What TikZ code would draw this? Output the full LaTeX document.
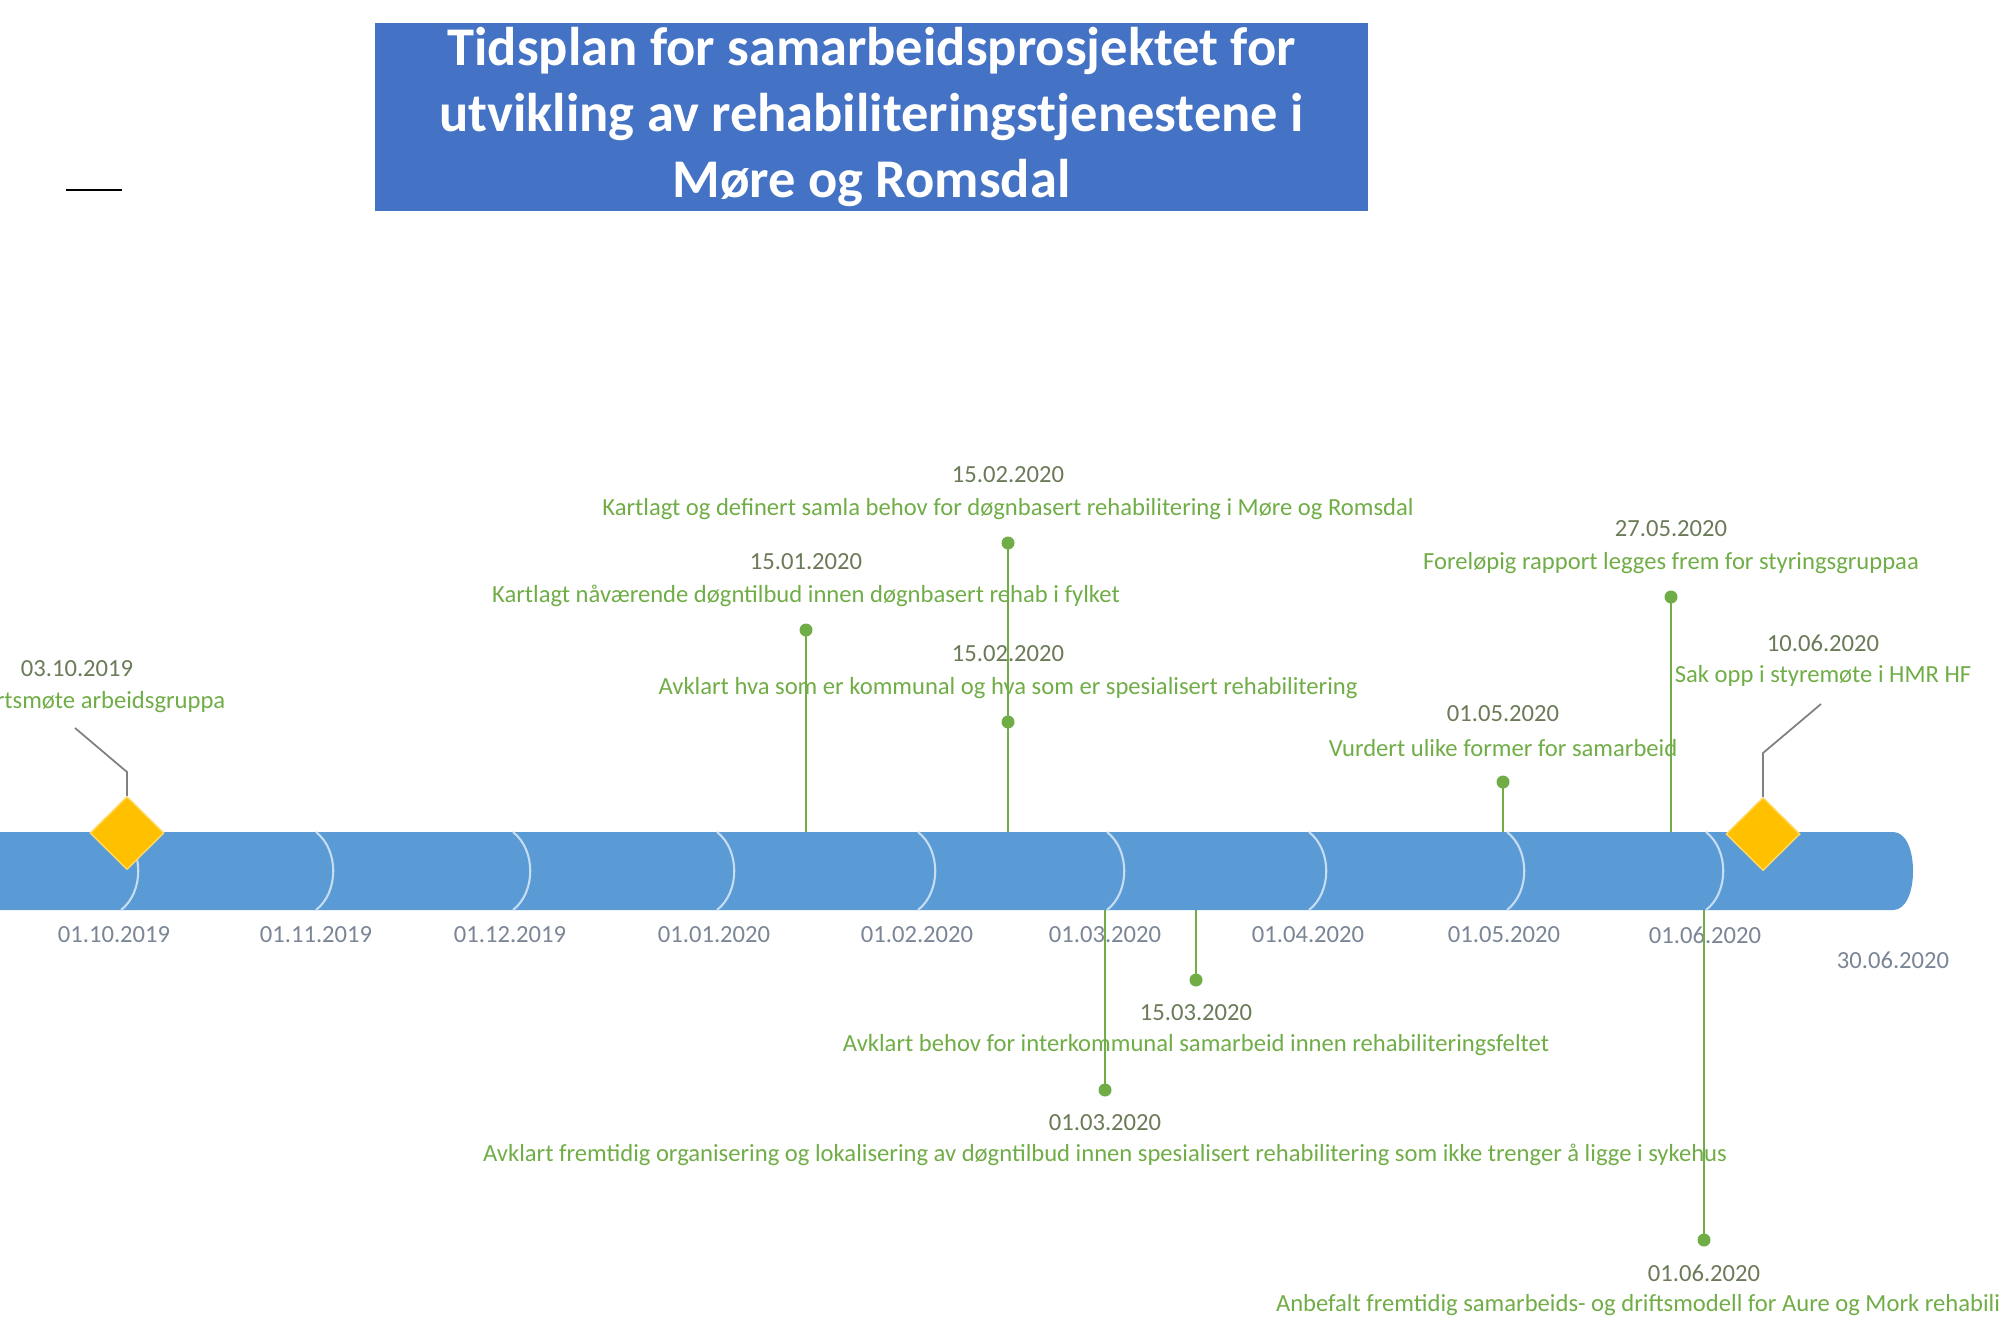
\documentclass[tikz,border=0pt]{standalone}
\usepackage{fontspec}
\setmainfont{Carlito}
\usetikzlibrary{shapes.geometric}

\definecolor{titleblue}{HTML}{4472C4}
\definecolor{barblue}{HTML}{5B9BD5}
\definecolor{seplight}{HTML}{C5DCF2}
\definecolor{msgold}{HTML}{FFC000}
\definecolor{msedge}{HTML}{FFD966}
\definecolor{evgreen}{HTML}{70AD47}
\definecolor{evdate}{HTML}{6B7A58}
\definecolor{axisgray}{HTML}{7A8596}
\definecolor{leadgray}{HTML}{808080}

\tikzset{
  smalltext/.style={font=\fontsize{7}{8}\selectfont, inner sep=0pt},
  evdesc/.style={smalltext, text=evgreen},
  evdatelbl/.style={smalltext, text=evdate},
  axislbl/.style={smalltext, text=axisgray},
  stem/.style={evgreen, line width=0.7pt},
  evdot/.style={circle, fill=evgreen, inner sep=0pt, minimum size=0.13cm},
  milestone/.style={diamond, aspect=1, fill=msgold, draw=msedge, line width=0.4pt,
    inner sep=0pt, minimum width=0.74cm, minimum height=0.73cm},
  leader/.style={leadgray, line width=0.5pt},
}

\begin{document}
\begin{tikzpicture}[x=0.01cm, y=-0.01cm]
  \useasboundingbox (0,0) rectangle (2000,1333);
  \clip (0,0) rectangle (2000,1333);

  % title
  \node[fill=titleblue, inner sep=0pt, minimum width=9.93cm, minimum height=1.88cm, text=white, align=center,
    font=\fontsize{15.5}{18.7}\selectfont\bfseries] (title) at (871.5,117)
    {Tidsplan for samarbeidsprosjektet for\\utvikling av rehabiliteringstjenestene i\\Møre og Romsdal};
  \draw[line width=0.8pt] (66,190) -- (122,190);

  % timeline bar
  \fill[barblue] (-10,832) -- (1893,832) .. controls (1906,832) and (1913,850) .. (1913,871)
    .. controls (1913,892) and (1906,910) .. (1893,910) -- (-10,910) -- cycle;
  \foreach \x/\lx/\d [count=\i] in {121/114/01.10.2019, 316/316/01.11.2019, 513/510/01.12.2019,
      717/714/01.01.2020, 918/917/01.02.2020, 1107/1105/01.03.2020, 1309/1308/01.04.2020,
      1507/1504/01.05.2020, 1706/1705/01.06.2020} {
    \draw[seplight, line width=0.6pt] (\x,832) .. controls (\x+23,850) and (\x+23,892) .. (\x,910);
    \node[axislbl] (month\i) at (\lx,935) {\d};
  }
  \node[axislbl] (endlbl) at (1893,960) {30.06.2020};

  % events above the bar
  \foreach \x/\y/\d/\txt [count=\i] in {
      806/630/15.01.2020/Kartlagt nåværende døgntilbud innen døgnbasert rehab i fylket,
      1008/543/15.02.2020/Kartlagt og definert samla behov for døgnbasert rehabilitering i Møre og Romsdal,
      1008/722/15.02.2020/Avklart hva som er kommunal og hva som er spesialisert rehabilitering,
      1503/782/01.05.2020/Vurdert ulike former for samarbeid,
      1671/597/27.05.2020/Foreløpig rapport legges frem for styringsgruppaa} {
    \coordinate (up\i) at (\x,832);
    \node[evdatelbl] (update\i) at (\x,\y-68) {\d};
    \node[evdesc] (uptext\i) at (\x,\y-34) {\txt};
    \node[evdot] (updot\i) at (\x,\y) {};
    \draw[stem] (updot\i.center) -- (up\i);
  }

  % events below the bar
  \foreach \x/\y/\d/\txt [count=\i] in {
      1196/980/15.03.2020/Avklart behov for interkommunal samarbeid innen rehabiliteringsfeltet,
      1105/1090/01.03.2020/Avklart fremtidig organisering og lokalisering av døgntilbud innen spesialisert rehabilitering som ikke trenger å ligge i sykehus,
      1704/1240/01.06.2020/Anbefalt fremtidig samarbeids- og driftsmodell for Aure og Mork rehabiliteringssenter} {
    \coordinate (down\i) at (\x,910);
    \node[evdatelbl] (downdate\i) at (\x,\y+33) {\d};
    \node[evdesc] (downtext\i) at (\x,\y+65) {\txt};
    \node[evdot] (downdot\i) at (\x,\y) {};
    \draw[stem] (down\i) -- (downdot\i.center);
  }

  % milestones
  \node[milestone] (ms1) at (127,833) {};
  \coordinate (ms1k) at (127,772);
  \coordinate (ms1e) at (75,728);
  \draw[leader] (ms1.north) -- (ms1k) -- (ms1e);
  \node[evdatelbl] (ms1date) at (77,669) {03.10.2019};
  \node[evdesc] (ms1text) at (75,702) {Oppstartsmøte arbeidsgruppa};

  \node[milestone] (ms2) at (1763,834) {};
  \coordinate (ms2k) at (1763,753);
  \coordinate (ms2e) at (1821,704);
  \draw[leader] (ms2.north) -- (ms2k) -- (ms2e);
  \node[evdatelbl] (ms2date) at (1823,643) {10.06.2020};
  \node[evdesc] (ms2text) at (1823,676) {Sak opp i styremøte i HMR HF};
\end{tikzpicture}
\end{document}
